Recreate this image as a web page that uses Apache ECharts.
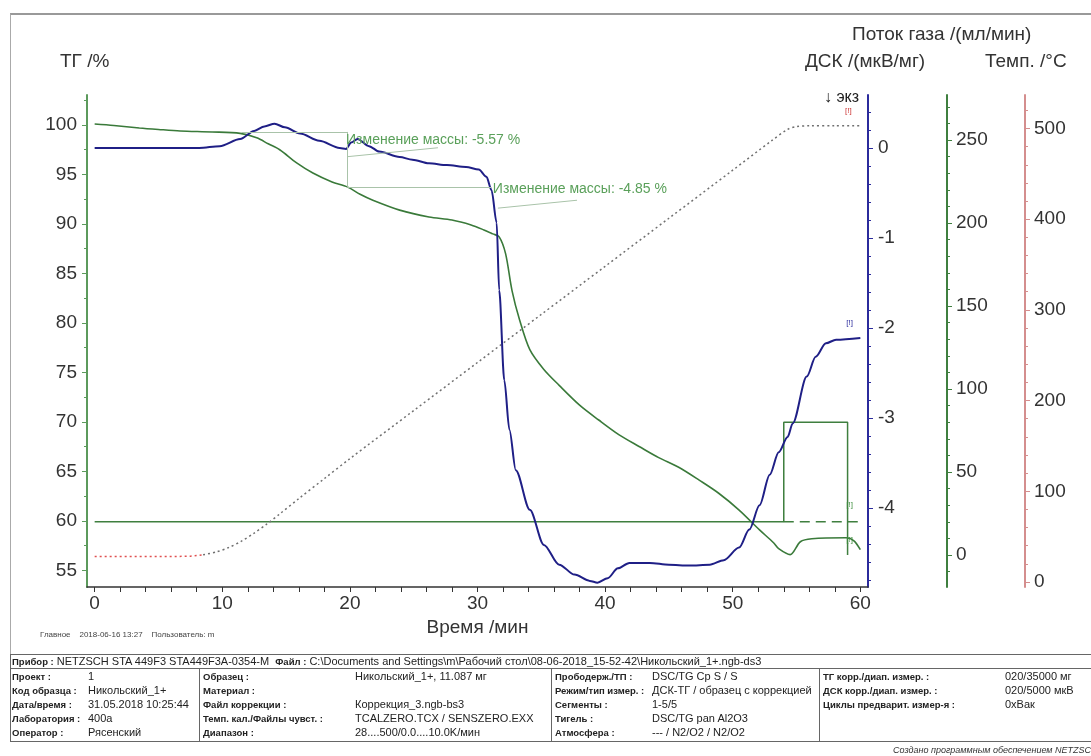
<!DOCTYPE html>
<html>
<head>
<meta charset="utf-8">
<script src="https://cdn.jsdelivr.net/npm/echarts@6/dist/echarts.min.js"></script>
<style>
  html, body { margin: 0; padding: 0; background: #fff; }
  #chart { position: absolute; left: 0; top: 0; width: 1091px; height: 756px; }
  .frame { position: absolute; left: 10px; top: 13px; width: 1081px; height: 641px;
           border-top: 2px solid #999; border-left: 1px solid #aaa; }
  .cell { position: absolute; font-family: "Liberation Sans", Arial, sans-serif; font-size: 11px;
          line-height: 14px; color: #222; white-space: nowrap; }
  .cell b { font-weight: bold; font-size: 9.5px; }
  .hl { position: absolute; height: 0; border-top: 1px solid #666; }
  .vl { position: absolute; width: 0; border-left: 1px solid #666; }
</style>
</head>
<body>
<div class="frame"></div>
<div id="chart"></div>
<div id="info"></div>
<script>
// ТГ, %
const tgTime = [0, 1.5, 3.5, 5, 6.7, 9.2, 11.4, 12.7, 13.6, 14.5, 15.8, 17.1, 18.6, 19.8, 20.8, 21.8, 23.9, 26.2, 28, 29.5,
  30.5, 31.2, 31.7, 32.2, 32.7, 33.3, 34.1, 35.2, 36.4, 38, 39.5, 41.1, 42.7, 44.2, 45.8, 47.4, 48.9, 50.5, 52.1, 53.2,
  53.6, 54.5, 55.3, 56.2, 58.9, 59.5, 60];
const tgValue = [100.1, 99.95, 99.7, 99.55, 99.4, 99.3, 99.15, 98.7, 98.1, 97.5, 96.2, 95.15, 94.25, 93.75, 93.0, 92.4, 91.4, 90.7, 90.4, 89.9,
  89.4, 89.0, 88.7, 87.0, 83.3, 80.3, 77.3, 75.3, 73.7, 71.7, 70.2, 68.7, 67.5, 66.4, 65.4, 64.1, 62.8, 61.1, 59.1, 57.8,
  57.2, 56.6, 57.9, 58.2, 58.3, 58.0, 57.1];

// ДСК, мкВ/мг
const dscTime = [0, 8.2, 9.8, 11.4, 12.5, 13.3, 14.1, 14.9, 16.1, 17.6, 19.2, 19.7, 20.1, 20.6, 21.5, 22.3, 23.9, 24.9, 26.2, 27.6,
  29.1, 30.1, 30.7, 31.1, 31.5, 31.7, 32.1, 32.5, 33.0, 34.1, 35.2, 36.4, 37.6, 38.8, 39.4, 40.2, 41.0, 41.9, 43.5, 45.0,
  46.6, 48.2, 49.3, 50.5, 51.3, 52.1, 52.9, 53.6, 54.3, 54.7, 55.8, 56.5, 57.3, 58.1, 60];
const dscValue = [0, 0, 0.02, 0.1, 0.19, 0.24, 0.27, 0.23, 0.16, 0.08, 0, -0.01, 0.06, 0.1, 0.02, -0.04, -0.1, -0.13, -0.17, -0.19,
  -0.21, -0.24, -0.32, -0.47, -0.83, -1.58, -2.58, -3.13, -3.58, -4.02, -4.41, -4.63, -4.74, -4.81, -4.83, -4.78, -4.67, -4.61, -4.61, -4.63,
  -4.64, -4.63, -4.58, -4.44, -4.24, -3.97, -3.63, -3.38, -3.21, -3.06, -2.54, -2.32, -2.17, -2.13, -2.11];

// Поток газа, мл/мин
const gasTime = [0, 54, 54, 59, 59];
const gasValue = [20, 20, 80, 80, 0];
const gas2Time = [54, 60];
const gas2Value = [20, 20];

// Температура, °C
const tempTime = [0, 2, 4, 6, 7.5, 8.5, 9.5, 10.5, 11.5, 12.5, 13.5, 14.5, 16, 18, 20, 25, 30, 35, 40, 45, 50, 53, 54.3, 55, 56, 58, 60];
const tempValue = [28, 28, 28, 28, 28.5, 30, 33, 38, 45, 54, 64, 75, 92, 114, 136, 189, 242, 295, 348, 401, 454, 486, 499, 502, 503, 503, 503];
const tempIsoEnd = 5; // изотерма до этой точки

// ticks
const xLabels = [0, 10, 20, 30, 40, 50, 60];
const xTicks = [0, 2, 4, 6, 8, 10, 12, 14, 16, 18, 20, 22, 24, 26, 28, 30, 32, 34, 36, 38, 40, 42, 44, 46, 48, 50, 52, 54, 56, 58, 60];
const tgLabels = [55, 60, 65, 70, 75, 80, 85, 90, 95, 100];
const tgMinor = [55, 57.5, 60, 62.5, 65, 67.5, 70, 72.5, 75, 77.5, 80, 82.5, 85, 87.5, 90, 92.5, 95, 97.5, 100, 102.5];
const dscLabels = [-4, -3, -2, -1, 0];
const dscMinor = [-4.8, -4.6, -4.4, -4.2, -4, -3.8, -3.6, -3.4, -3.2, -3, -2.8, -2.6, -2.4, -2.2, -2, -1.8, -1.6, -1.4, -1.2, -1,
  -0.8, -0.6, -0.4, -0.2, 0, 0.2, 0.4];
const gasLabels = [0, 50, 100, 150, 200, 250];
const gasMinor = [-10, 0, 10, 20, 30, 40, 50, 60, 70, 80, 90, 100, 110, 120, 130, 140, 150, 160, 170, 180, 190, 200, 210, 220, 230, 240, 250, 260, 270];
const tempLabels = [0, 100, 200, 300, 400, 500];
const tempMinor = [0, 20, 40, 60, 80, 100, 120, 140, 160, 180, 200, 220, 240, 260, 280, 300, 320, 340, 360, 380, 400, 420, 440, 460, 480, 500, 520];

function pairs(t, v) {
  return t.map((x, i) => [x, v[i]]);
}

const font = '"Liberation Sans", Arial, sans-serif';
const cTG = '#5c9a5c', cDSC = '#2b2b9c', cGas = '#3f7f3f', cTemp = '#d48e8e';

function yAxisOf(opt) {
  return {
    type: 'value',
    position: opt.side,
    offset: opt.offset || 0,
    min: opt.min,
    max: opt.max,
    axisLine: { show: !opt.minor, onZero: false, lineStyle: { color: opt.color, width: 2 } },
    axisTick: { show: true, customValues: opt.ticks, length: opt.minor ? 3 : 5,
      lineStyle: { color: opt.color, width: 1 } },
    axisLabel: { show: !opt.minor, customValues: opt.ticks, fontSize: 19, fontFamily: font,
      color: '#333', margin: opt.margin || 9 },
    splitLine: { show: false }
  };
}

const tgMin = 53.33, tgMax = 103.03;
const dscMin = -4.878, dscMax = 0.589;
const gasMin = -19.3, gasMax = 277.1;
const tempMin = -5.5, tempMax = 536.9;

const option = {
  backgroundColor: 'transparent',
  animation: false,
  grid: { left: 87, right: 223, top: 95, bottom: 169 },
  xAxis: {
    type: 'value',
    min: -0.6,
    max: 60.6,
    axisLine: { onZero: false, lineStyle: { color: '#333', width: 1.5 } },
    axisTick: { customValues: xTicks, length: 5, lineStyle: { color: '#333' } },
    axisLabel: { customValues: xLabels, fontSize: 19, fontFamily: font, color: '#333', margin: 7 },
    splitLine: { show: false },
    name: 'Время /мин',
    nameLocation: 'middle',
    nameGap: 24,
    nameTextStyle: { fontSize: 19, fontFamily: font, color: '#333' }
  },
  yAxis: [
    yAxisOf({ side: 'left', min: tgMin, max: tgMax, color: cTG, ticks: tgLabels, margin: 10 }),
    yAxisOf({ side: 'left', min: tgMin, max: tgMax, color: cTG, ticks: tgMinor, minor: true }),
    yAxisOf({ side: 'right', min: dscMin, max: dscMax, color: cDSC, ticks: dscLabels, margin: 10 }),
    yAxisOf({ side: 'right', min: dscMin, max: dscMax, color: cDSC, ticks: dscMinor, minor: true }),
    yAxisOf({ side: 'right', offset: 79, min: gasMin, max: gasMax, color: cGas, ticks: gasLabels, margin: 9 }),
    yAxisOf({ side: 'right', offset: 79, min: gasMin, max: gasMax, color: cGas, ticks: gasMinor, minor: true }),
    yAxisOf({ side: 'right', offset: 157, min: tempMin, max: tempMax, color: cTemp, ticks: tempLabels, margin: 9 }),
    yAxisOf({ side: 'right', offset: 157, min: tempMin, max: tempMax, color: cTemp, ticks: tempMinor, minor: true })
  ],
  series: [
    {
      name: 'Поток газа',
      type: 'line',
      yAxisIndex: 4,
      symbol: 'none',
      lineStyle: { color: cGas, width: 1.5 },
      data: pairs(gasTime, gasValue),
      markPoint: {
        symbolSize: 0,
        label: { show: true, position: 'right', distance: 0, formatter: '{b}', fontSize: 8, color: '#3f8f3f' },
        data: [{ name: '[!]', coord: [58.9, 30] }]
      }
    },
    {
      name: 'Поток газа 2',
      type: 'line',
      yAxisIndex: 4,
      symbol: 'none',
      lineStyle: { color: cGas, width: 1.5, type: [10, 6] },
      data: pairs(gas2Time, gas2Value)
    },
    {
      name: 'Темп. изотерма',
      type: 'line',
      yAxisIndex: 6,
      symbol: 'none',
      lineStyle: { color: '#e05050', width: 1.5, type: [2, 3] },
      data: pairs(tempTime, tempValue).slice(0, tempIsoEnd + 1)
    },
    {
      name: 'Темп.',
      type: 'line',
      yAxisIndex: 6,
      symbol: 'none',
      smooth: 0.3,
      lineStyle: { color: '#707070', width: 1.5, type: [2, 3] },
      data: pairs(tempTime, tempValue).slice(tempIsoEnd),
      markPoint: {
        symbolSize: 0,
        label: { show: true, position: 'right', distance: 0, formatter: '{b}', fontSize: 8, color: '#cc3333' },
        data: [{ name: '[!]', coord: [58.8, 519] }]
      }
    },
    {
      name: 'ТГ',
      type: 'line',
      yAxisIndex: 0,
      symbol: 'none',
      smooth: 0.3,
      lineStyle: { color: '#3a7a3a', width: 1.6 },
      data: pairs(tgTime, tgValue),
      markLine: {
        silent: true,
        symbol: 'none',
        label: { show: false },
        lineStyle: { color: '#a9c3a9', width: 1, type: 'solid' },
        data: [
          [{ coord: [11.5, 99.3] }, { coord: [19.8, 99.3] }],
          [{ coord: [19.8, 99.3] }, { coord: [19.8, 93.75] }],
          [{ coord: [19.8, 93.75] }, { coord: [31.1, 93.75] }],
          [{ coord: [19.8, 96.8] }, { coord: [26.9, 97.7] }],
          [{ coord: [31.6, 91.6] }, { coord: [37.8, 92.4] }]
        ]
      },
      markPoint: {
        symbolSize: 0,
        label: { show: true, position: 'right', distance: 0, formatter: '{b}', fontSize: 14,
          fontFamily: font, color: '#5aa05a' },
        data: [
          { name: 'Изменение массы: -5.57 %', coord: [19.7, 98.5] },
          { name: 'Изменение массы: -4.85 %', coord: [31.2, 93.5] },
          { name: '[!]', coord: [58.9, 58.1], label: { fontSize: 8, color: '#3f8f3f' } }
        ]
      }
    },
    {
      name: 'ДСК',
      type: 'line',
      yAxisIndex: 2,
      symbol: 'none',
      smooth: 0.3,
      smoothMonotone: 'x',
      lineStyle: { color: '#1f1f86', width: 2 },
      data: pairs(dscTime, dscValue),
      markPoint: {
        symbolSize: 0,
        label: { show: true, position: 'right', distance: 0, formatter: '{b}', fontSize: 8, color: '#2b2b9c' },
        data: [{ name: '[!]', coord: [58.9, -1.94] }]
      }
    }
  ],
  graphic: [
    { type: 'text', left: 60, top: 52, style: { text: 'ТГ /%', font: '19px ' + font, fill: '#333' } },
    { type: 'text', left: 852, top: 25, style: { text: 'Поток газа /(мл/мин)', font: '19px ' + font, fill: '#333' } },
    { type: 'text', left: 805, top: 52, style: { text: 'ДСК /(мкВ/мг)', font: '19px ' + font, fill: '#333' } },
    { type: 'text', left: 985, top: 52, style: { text: 'Темп. /°C', font: '19px ' + font, fill: '#333' } },
    { type: 'text', left: 824, top: 90, style: { text: '↓ экз', font: '16px ' + font, fill: '#222' } },
    { type: 'text', left: 40, top: 631, style: { text: 'Главное    2018-06-16 13:27    Пользователь: m', font: '8px ' + font, fill: '#444' } }
  ]
};

const myChart = echarts.init(document.getElementById('chart'), null, { renderer: 'canvas' });
myChart.setOption(option);

// таблица параметров измерения
const headerText = '<b>Прибор :</b> NETZSCH STA 449F3 STA449F3A-0354-M &nbsp;<b>Файл :</b> C:\\Documents and Settings\\m\\Рабочий стол\\08-06-2018_15-52-42\\Никольский_1+.ngb-ds3';
const colX = [12, 88, 203, 355, 555, 652, 823, 1005];
const tableRows = [
  ['Проект :', '1', 'Образец :', 'Никольский_1+, 11.087 мг', 'Прободерж./ТП :', 'DSC/TG Cp S / S', 'ТГ корр./диап. измер. :', '020/35000 мг'],
  ['Код образца :', 'Никольский_1+', 'Материал :', '', 'Режим/тип измер. :', 'ДСК-ТГ / образец с коррекцией', 'ДСК корр./диап. измер. :', '020/5000 мкВ'],
  ['Дата/время :', '31.05.2018 10:25:44', 'Файл коррекции :', 'Коррекция_3.ngb-bs3', 'Сегменты :', '1-5/5', 'Циклы предварит. измер-я :', '0xВак'],
  ['Лаборатория :', '400а', 'Темп. кал./Файлы чувст. :', 'TCALZERO.TCX / SENSZERO.EXX', 'Тигель :', 'DSC/TG pan Al2O3', '', ''],
  ['Оператор :', 'Рясенский', 'Диапазон :', '28....500/0.0....10.0K/мин', 'Атмосфера :', '--- / N2/O2 / N2/O2', '', '']
];

const info = document.getElementById('info');
let html = '';
html += '<div class="hl" style="left:10px;top:654px;width:1081px"></div>';
html += '<div class="hl" style="left:10px;top:668px;width:1081px"></div>';
html += '<div class="hl" style="left:10px;top:741px;width:1081px"></div>';
html += '<div class="vl" style="left:10px;top:654px;height:87px"></div>';
html += '<div class="vl" style="left:199px;top:668px;height:73px"></div>';
html += '<div class="vl" style="left:551px;top:668px;height:73px"></div>';
html += '<div class="vl" style="left:819px;top:668px;height:73px"></div>';
html += '<div class="cell" style="left:12px;top:654px">' + headerText + '</div>';
tableRows.forEach((row, r) => {
  row.forEach((txt, c) => {
    if (!txt) return;
    const inner = c % 2 === 0 ? '<b>' + txt + '</b>' : txt;
    html += '<div class="cell" style="left:' + colX[c] + 'px;top:' + (669 + r * 14) + 'px">' + inner + '</div>';
  });
});
html += '<div class="cell" style="left:893px;top:743px;font-size:9px;font-style:italic;color:#333">Создано программным обеспечением NETZSCH Proteus</div>';
info.innerHTML = html;
</script>
</body>
</html>
